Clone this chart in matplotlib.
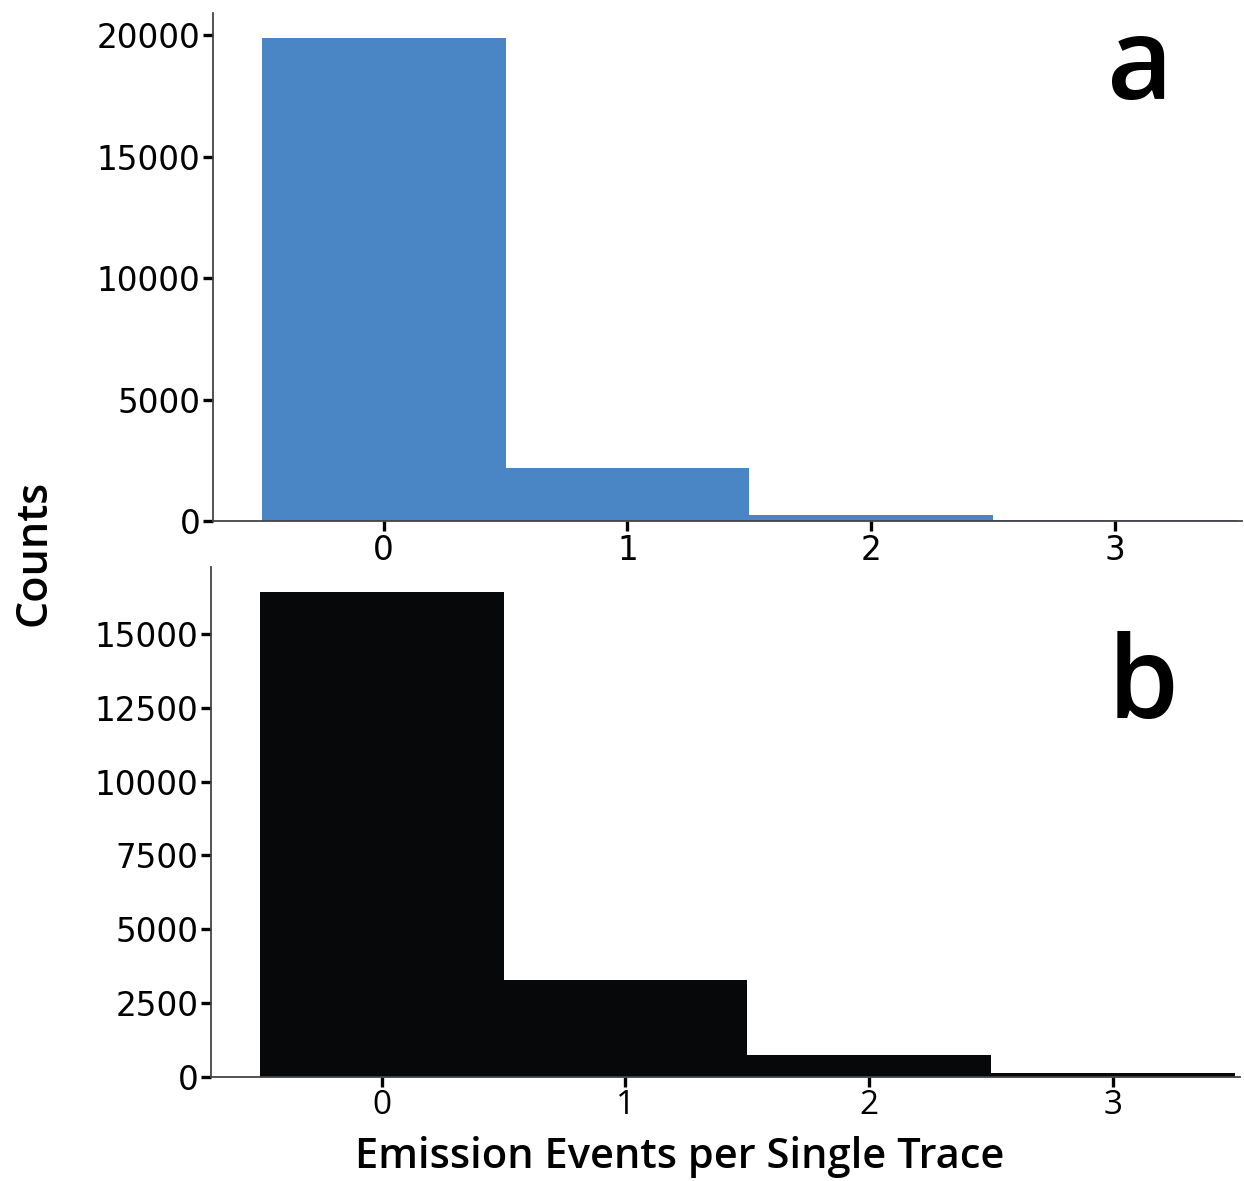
import numpy as np
import matplotlib.pyplot as plt

# 数据
events = [0, 1, 2, 3]
counts_a = [19880, 2180, 250, 30]
counts_b = [16420, 3290, 745, 145]

yticks_a = [0, 5000, 10000, 15000, 20000]
yticks_b = [0, 2500, 5000, 7500, 10000, 12500, 15000]

fig = plt.figure(figsize=(12.44, 11.81), dpi=100)
ax_a = fig.add_axes([0.1712, 0.5588, 0.827, 0.4300])
ax_b = fig.add_axes([0.1696, 0.0881, 0.827, 0.4319])


def style_axes(ax, yticks, ylim_top):
    ax.set_xlim(-0.7, 3.52)
    ax.set_ylim(0, ylim_top)
    ax.set_xticks(events)
    ax.set_yticks(yticks)
    for s in ['top', 'right']:
        ax.spines[s].set_visible(False)
    for s in ['left', 'bottom']:
        ax.spines[s].set_color('#444444')
        ax.spines[s].set_linewidth(1.3)
    ax.tick_params(axis='both', length=7, width=2.4, color='black',
                   labelsize=23.5, pad=2)


ax_a.bar(events, counts_a, width=1.0, color='#4a86c5', linewidth=0)
style_axes(ax_a, yticks_a, 20900)

ax_b.bar(events, counts_b, width=1.0, color='#070809', linewidth=0)
style_axes(ax_b, yticks_b, 17270)
for lab in ax_b.get_xticklabels():
    lab.set_fontfamily('Open Sans')
    lab.set_fontsize(24)

# 面板字母
fig.text(0.9165, 0.916, 'a', ha='center', va='baseline',
         fontsize=82, fontfamily='Open Sans', fontweight='semibold')
fig.text(0.919, 0.392, 'b', ha='center', va='baseline',
         fontsize=82, fontfamily='Open Sans', fontweight='semibold')

fig.text(0.027, 0.532, 'Counts', rotation=90, ha='center', va='center',
         fontsize=31, fontfamily='Open Sans', fontweight='semibold')
fig.text(0.546, 0.020, 'Emission Events per Single Trace', ha='center',
         va='center', fontsize=30, fontfamily='Open Sans',
         fontweight='semibold')

fig.savefig('out.png', dpi=100)
